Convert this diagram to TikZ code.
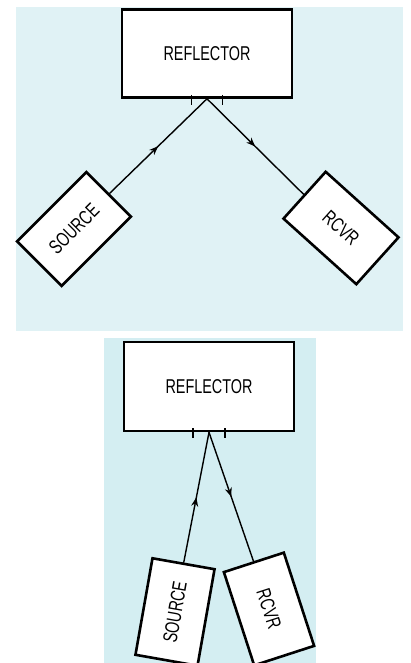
\documentclass[tikz,border=0pt]{standalone}
\usepackage{fontspec}
\usepackage{graphicx}
\setmainfont{Liberation Sans}
\usetikzlibrary{arrows.meta,calc,decorations.markings}

\definecolor{cartaA}{RGB}{224,242,245}
\definecolor{cartaB}{RGB}{212,238,242}

% scritta stretta (carattere condensato)
\newcommand{\stretta}[1]{\scalebox{0.72}[1]{#1}}

\begin{document}
\begin{tikzpicture}[x=1pt, y=1pt,
		blocco/.style={draw, fill=white, line width=2.6pt,
				minimum width=98pt, minimum height=63pt, inner sep=0pt,
				font=\fontsize{20}{20}\selectfont},
		riflettore/.style={blocco, minimum width=170pt, minimum height=88pt},
		raggio/.style={line width=1.4pt, line cap=round,
				postaction={decorate},
				decoration={markings,
						mark=at position 0.5 with {\arrow{Stealth[length=9pt,width=7pt]}}}},
		tacca/.style={line width=1.5pt}]

	\useasboundingbox (0,0) rectangle (410,663);

	% ---- fondi (carta azzurrina) ----
	\fill[cartaA] (16,332) rectangle (403,656);
	\fill[cartaB] (104,0) rectangle (316,325);

	% ================= pannello superiore: geometria a V larga =================
	\node[riflettore] (refA) at (207,609.5) {\stretta{REFLECTOR}};
	\node[blocco, rotate=45]  (srcA) at (74,434)  {\stretta{SOURCE}};
	\node[blocco, rotate=-42] (rcvA) at (341,435) {\stretta{RCVR}};

	\draw[raggio] (srcA.east) -- (refA.south);
	\draw[raggio] (refA.south) -- (rcvA.west);

	% tacche sul bordo del riflettore
	\draw[tacca] ($(refA.south)+(-15.5,4)$) -- ++(0,-10);
	\draw[tacca] ($(refA.south)+(15.5,4)$)  -- ++(0,-10);

	% ================= pannello inferiore: geometria stretta =================
	\node[riflettore, minimum height=89pt] (refB) at (209,276.5) {\stretta{REFLECTOR}};
	\node[blocco, rotate=80]  (srcB) at (175,51) {\stretta{SOURCE}};
	\node[blocco, rotate=-72] (rcvB) at (269,54) {\stretta{RCVR}};

	\draw[raggio] (srcB.east) -- (refB.south);
	\draw[raggio] (refB.south) -- (rcvB.west);

	\draw[tacca] ($(refB.south)+(-16,4)$) -- ++(0,-10);
	\draw[tacca] ($(refB.south)+(16,4)$)  -- ++(0,-10);

\end{tikzpicture}
\end{document}
